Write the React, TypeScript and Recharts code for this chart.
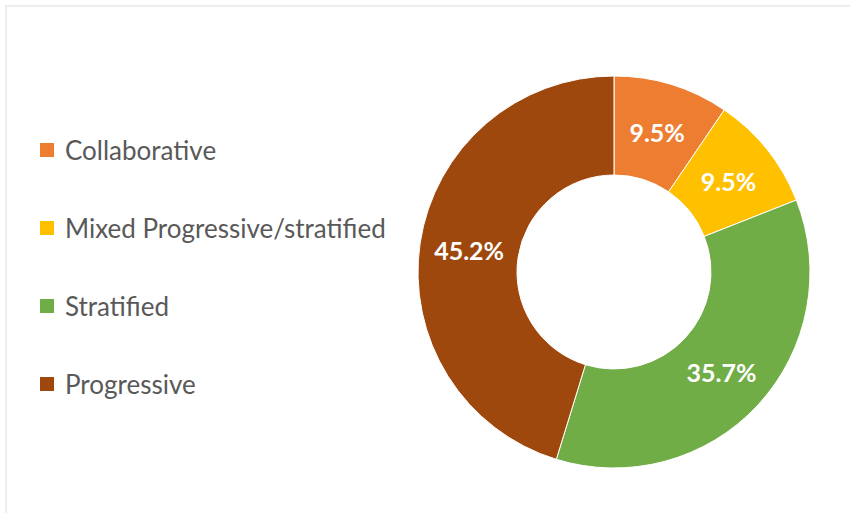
import React from 'react';
import { PieChart, Pie, Cell, Legend } from 'recharts';

const categories = ['Collaborative', 'Mixed Progressive/stratified', 'Stratified', 'Progressive'];
const shares = [9.5, 9.5, 35.7, 45.2];
const COLORS = ['#ED7D31', '#FFC000', '#70AD47', '#9E480E'];

const data = categories.map((name, i) => ({ name, value: shares[i] }));

const RADIAN = Math.PI / 180;
const FONT = 'Lato, "Open Sans", sans-serif';

// Percent label centred in the ring
const renderLabel = (props: any) => {
    const { cx, cy, midAngle, innerRadius, outerRadius, index } = props;
    const r = (innerRadius + outerRadius) / 2;
    const x = Number(cx) + r * Math.cos(-midAngle * RADIAN);
    const y = Number(cy) + r * Math.sin(-midAngle * RADIAN);
    return (
        <text
            x={x}
            y={y}
            fill="#ffffff"
            textAnchor="middle"
            dominantBaseline="central"
            style={{ fontSize: '25px', fontWeight: 700, fontFamily: FONT }}
        >
            {`${shares[index].toFixed(1)}%`}
        </text>
    );
};

const renderLegend = () => (
    <div>
        {categories.map((name, i) => (
            <div key={name} style={{ height: 78, display: 'flex', alignItems: 'center' }}>
                <span style={{ width: 14, height: 14, background: COLORS[i], display: 'inline-block', marginRight: 11 }} />
                <span style={{ fontSize: '26px', color: '#595959', fontFamily: FONT }}>{name}</span>
            </div>
        ))}
    </div>
);

export default function App() {
    return (
        <div style={{ position: 'fixed', left: 0, top: 0, width: 850, height: 513, overflow: 'hidden', background: '#fff' }}>
            <div style={{ position: 'absolute', left: 5, top: 5, width: 900, height: 600, border: '2px solid #eeeeee' }} />
            <PieChart width={850} height={513} style={{ position: 'absolute', left: 0, top: 0 }}>
                <Pie
                    data={data}
                    dataKey="value"
                    nameKey="name"
                    cx={609}
                    cy={267}
                    innerRadius={97}
                    outerRadius={196}
                    startAngle={90}
                    endAngle={-270}
                    stroke="#ffffff"
                    strokeWidth={1}
                    labelLine={false}
                    label={renderLabel}
                    isAnimationActive={false}
                >
                    {data.map((entry, index) => (
                        <Cell key={`cell-${index}`} fill={COLORS[index]} />
                    ))}
                </Pie>
                <Legend
                    layout="vertical"
                    content={renderLegend}
                    wrapperStyle={{ left: 40, top: 111, width: 380 }}
                />
            </PieChart>
        </div>
    );
}
